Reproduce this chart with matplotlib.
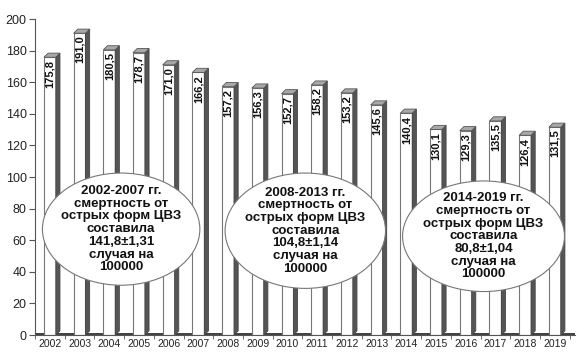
import numpy as np
import matplotlib
matplotlib.use('Agg')
import matplotlib.pyplot as plt
from matplotlib.patches import Polygon, Ellipse

plt.rcParams['font.family'] = ['Liberation Sans', 'DejaVu Sans']

#data
years = [str(y) for y in range(2002, 2020)]
values = [175.8, 191.0, 180.5, 178.7, 171.0, 166.2, 157.2, 156.3, 152.7,
          158.2, 153.2, 145.6, 140.4, 130.1, 129.3, 135.5, 126.4, 131.5]
labels = [f'{v:.1f}'.replace('.', ',') for v in values]
notes = [
    '2002-2007 гг.\nсмертность от\nострых форм ЦВЗ\nсоставила\n141,8±1,31\nслучая на\n100000',
    '2008-2013 гг.\nсмертность от\nострых форм ЦВЗ\nсоставила\n104,8±1,14\nслучая на\n100000',
    '2014-2019 гг.\nсмертность от\nострых форм ЦВЗ\nсоставила\n80,8±1,04\nслучая на\n100000',
]

fig = plt.figure(figsize=(5.77, 3.54), dpi=100)
ax = fig.add_axes([35 / 577, 1 - 335 / 354, 540 / 577, 316 / 354])

x = np.arange(len(values))
w = 0.4      # front face width
dx = 0.14    # depth, x units
dy = 2.6     # depth, y units

#dark floor strip
ax.axhspan(0, 1.4, color='#444444', lw=0, zorder=1)

for xi, v, lab in zip(x, values, labels):
    x0, x1 = xi - w / 2, xi + w / 2
    #front
    ax.add_patch(Polygon([(x0, 0), (x1, 0), (x1, v), (x0, v)],
                         facecolor='white', edgecolor='#777777', lw=0.8, zorder=2))
    #side
    ax.add_patch(Polygon([(x1, 0), (x1 + dx, dy), (x1 + dx, v + dy), (x1, v)],
                         facecolor='#555555', edgecolor='#444444', lw=0.6, zorder=2))
    #top
    ax.add_patch(Polygon([(x0, v), (x1, v), (x1 + dx, v + dy), (x0 + dx, v + dy)],
                         facecolor='#a8a8a8', edgecolor='#555555', lw=0.6, zorder=2))
    ax.text(xi, v - 1.5, lab, rotation=90, ha='center', va='top',
            fontsize=8, fontweight='bold', color='#111111', zorder=3)

#ellipses with notes
ell_x = [2.4, 8.6, 14.6]
ell_y = [67.0, 66.0, 62.5]
ell_w = [5.3, 5.4, 5.45]
ell_h = [71.0, 73.0, 70.0]
for ex, ey, ew, eh, txt in zip(ell_x, ell_y, ell_w, ell_h, notes):
    ax.add_patch(Ellipse((ex, ey), ew, eh, facecolor='white',
                         edgecolor='#777777', lw=0.8, zorder=4))
    ax.text(ex, ey, txt, ha='center', va='center', fontsize=9.5,
            fontweight='bold', linespacing=1.08, color='#111111', zorder=5)

ax.set_xlim(-0.5, 17.68)
ax.set_ylim(0, 200)
ax.set_yticks(range(0, 201, 20))
ax.set_xticks(x)
ax.set_xticklabels(years, fontsize=7.5)
ax.set_xticks(np.arange(-0.5, 17.6, 1), minor=True)
ax.tick_params(axis='x', which='major', length=0, pad=3, labelcolor='#222222')
ax.tick_params(axis='x', which='minor', length=3, color='#555555')
ax.tick_params(axis='y', labelsize=9, length=4, color='#555555', pad=2,
               labelcolor='#222222')
for s in ['top', 'right']:
    ax.spines[s].set_visible(False)
ax.spines['left'].set_color('#555555')
ax.spines['bottom'].set_color('#555555')

fig.savefig('out.png', dpi=100)
